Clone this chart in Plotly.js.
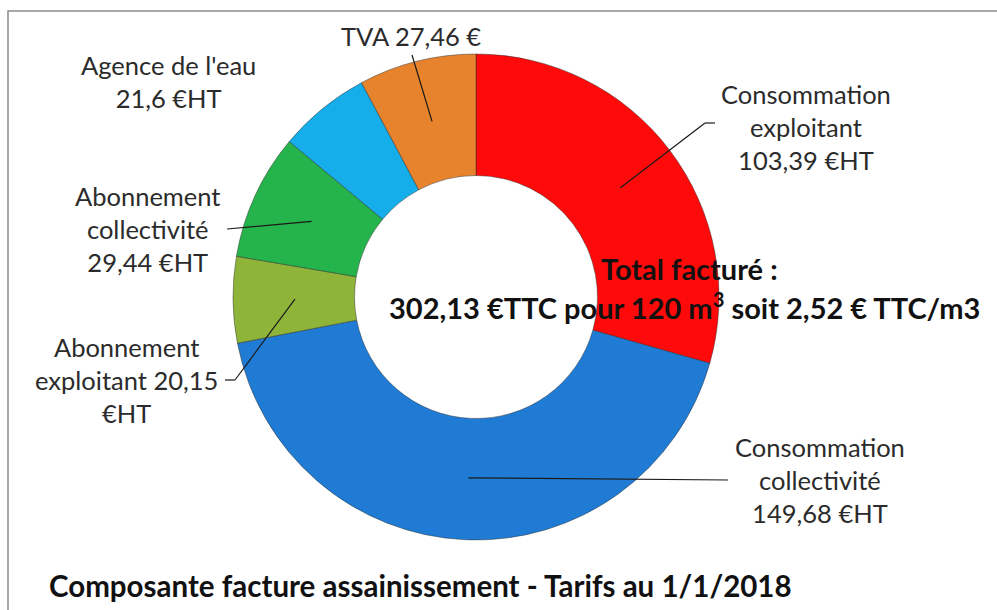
<!DOCTYPE html>
<html>
<head>
<meta charset="utf-8">
<script src="https://cdn.plot.ly/plotly-3.0.1.min.js"></script>
<style>html,body{margin:0;padding:0;background:#fff;}#chart{width:997px;height:610px;}</style>
</head>
<body>
<div id="chart"></div>
<script>
// ---- Data ----
const categories = ["Consommation exploitant", "Consommation collectivité", "Abonnement exploitant", "Abonnement collectivité", "Agence de l'eau", "TVA"];
const values = [103.39, 149.68, 20.15, 29.44, 21.6, 27.46];
const labelTexts = [
  "Consommation<br>exploitant<br>103,39 €HT",
  "Consommation<br>collectivité<br>149,68 €HT",
  "Abonnement<br>exploitant 20,15<br>€HT",
  "Abonnement<br>collectivité<br>29,44 €HT",
  "Agence de l'eau<br>21,6 €HT",
  "TVA 27,46 €"
];
const colors = ["#FF0A0A", "#1F7BD4", "#8EB53A", "#25B34B", "#16AEEA", "#E6832C"];
const centerLine1 = "Total facturé :";
const centerLine2 = "302,13 €TTC pour 120 m<sup>3</sup> soit 2,52 € TTC/m3";
const chartTitle = "Composante facture assainissement - Tarifs au 1/1/2018";

// ---- Layout helpers ----
const W = 997, H = 610;
const cx = 476, cy = 297, R = 243;
const px = x => x / W;
const py = y => 1 - y / H;

// label positions (text block centres)
const labelPos = [[806,127],[820,480],[127,380],[148,229],[168,81],[411,36]];
// leader outer start points (near the text), optional elbow, null = no leader
const leaderStart = [[715,123],[728,480],[225,380],[227,229],null,[412,55]];
const leaderElbow = [[705,123],null,[235,380],null,null,null];

const total = values.reduce((a,b)=>a+b,0);
let cum = 0;
const shapes = [];
values.forEach((v,i) => {
  const mid = (cum + v/2) / total * 2 * Math.PI; // clockwise from top
  cum += v;
  if (!leaderStart[i]) return;
  const ex = cx + 0.745 * R * Math.sin(mid);
  const ey = cy - 0.745 * R * Math.cos(mid);
  let pts = [leaderStart[i]];
  if (leaderElbow[i]) pts.push(leaderElbow[i]);
  pts.push([ex, ey]);
  for (let k = 0; k < pts.length - 1; k++) {
    shapes.push({type:'line', xref:'paper', yref:'paper',
      x0:px(pts[k][0]), y0:py(pts[k][1]), x1:px(pts[k+1][0]), y1:py(pts[k+1][1]),
      line:{color:'#1a1a1a', width:1.2}, layer:'above'});
  }
});
// outer frame
shapes.push({type:'rect', xref:'paper', yref:'paper', x0:px(8), y0:-0.05, x1:1.05, y1:py(11),
  line:{color:'#8c8c8c', width:1.5}, layer:'below'});

const FONT = "Lato, 'Open Sans', sans-serif";
const annotations = labelTexts.map((t,i) => ({
  text: t, xref:'paper', yref:'paper', x:px(labelPos[i][0]), y:py(labelPos[i][1]),
  xanchor:'center', yanchor:'middle', showarrow:false, align:'center',
  font:{family:FONT, size:25.5, color:'#2b2b2b'}
}));
annotations.push({text:'<b>'+centerLine1+'</b>', xref:'paper', yref:'paper', x:px(689), y:py(268),
  xanchor:'center', yanchor:'middle', showarrow:false, font:{family:FONT, size:29, color:'#111'}});
annotations.push({text:'<b>'+centerLine2+'</b>', xref:'paper', yref:'paper', x:px(684), y:py(306),
  xanchor:'center', yanchor:'middle', showarrow:false, font:{family:FONT, size:29, color:'#111'}});
annotations.push({text:'<b>'+chartTitle+'</b>', xref:'paper', yref:'paper', x:px(47), y:py(585),
  xanchor:'left', yanchor:'middle', showarrow:false, font:{family:FONT, size:29.5, color:'#111'}});

const trace = {
  type:'pie', labels:categories, values:values, hole:0.5, sort:false,
  direction:'clockwise', rotation:0, textinfo:'none', hoverinfo:'label+value',
  marker:{colors:colors, line:{color:'rgba(40,40,40,0.45)', width:1}},
  domain:{x:[px(cx-R), px(cx+R)], y:[py(cy+R), py(cy-R)]}
};

Plotly.newPlot('chart', [trace], {
  width:W, height:H, margin:{l:0,r:0,t:0,b:0}, showlegend:false,
  paper_bgcolor:'#ffffff', shapes:shapes, annotations:annotations
}, {displayModeBar:false, staticPlot:true});
</script>
</body>
</html>
